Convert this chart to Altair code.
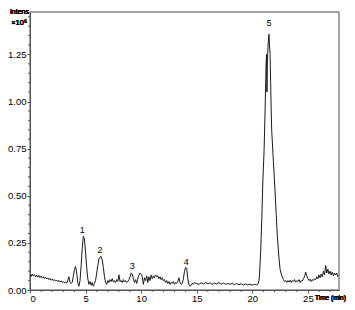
import altair as alt
import pandas as pd

# Chromatogram trace (time in min, intensity in 10^6)
times = [
    0.0, 0.1, 0.2, 0.3, 0.4, 0.5, 0.6, 0.7, 0.8, 0.9,
    1.0, 1.1, 1.2, 1.3, 1.4, 1.5, 1.6, 1.7, 1.8, 1.9,
    2.0, 2.1, 2.2, 2.3, 2.4, 2.5, 2.6, 2.7, 2.8, 2.9,
    3.0, 3.1, 3.2, 3.3, 3.4, 3.5, 3.6, 3.7, 3.8, 3.9,
    4.0, 4.1, 4.2, 4.3, 4.4, 4.5, 4.6, 4.7, 4.8, 4.9,
    5.0, 5.1, 5.2, 5.3, 5.4, 5.5, 5.6, 5.7, 5.8, 5.9,
    6.0, 6.1, 6.2, 6.3, 6.4, 6.5, 6.6, 6.7, 6.8, 6.9,
    7.0, 7.1, 7.2, 7.3, 7.4, 7.5, 7.6, 7.7, 7.8, 7.9,
    8.0, 8.1, 8.2, 8.3, 8.4, 8.5, 8.6, 8.7, 8.8, 8.9,
    9.0, 9.1, 9.2, 9.3, 9.4, 9.5, 9.6, 9.7, 9.8, 9.9,
    10.0, 10.1, 10.2, 10.3, 10.4, 10.5, 10.6, 10.7, 10.8, 10.9,
    11.0, 11.1, 11.2, 11.3, 11.4, 11.5, 11.6, 11.7, 11.8, 11.9,
    12.0, 12.1, 12.2, 12.3, 12.4, 12.5, 12.6, 12.7, 12.8, 12.9,
    13.0, 13.1, 13.2, 13.3, 13.4, 13.5, 13.6, 13.7, 13.8, 13.9,
    14.0, 14.1, 14.2, 14.3, 14.4, 14.5, 14.6, 14.7, 14.8, 14.9,
    15.0, 15.2, 15.4, 15.6, 15.8, 16.0, 16.2, 16.4, 16.6, 16.8,
    17.0, 17.2, 17.4, 17.6, 17.8, 18.0, 18.2, 18.4, 18.6, 18.8,
    19.0, 19.2, 19.4, 19.6, 19.8, 20.0, 20.2, 20.4, 20.5, 20.6,
    20.65, 20.75, 20.86, 20.95, 21.06, 21.15, 21.24, 21.28, 21.32, 21.36,
    21.42, 21.5, 21.55, 21.6, 21.65, 21.7, 21.75, 21.9, 22.05, 22.15,
    22.25, 22.4, 22.5, 22.65, 22.8, 22.9, 23.0, 23.1, 23.2, 23.3,
    23.4, 23.5, 23.6, 23.7, 23.8, 23.9, 24.0, 24.1, 24.2, 24.3,
    24.4, 24.5, 24.6, 24.7, 24.8, 24.9, 25.0, 25.1, 25.2, 25.3,
    25.4, 25.5, 25.6, 25.7, 25.8, 25.9, 26.0, 26.1, 26.2, 26.3,
    26.4, 26.5, 26.6, 26.7, 26.8, 26.9, 27.0, 27.1, 27.2, 27.3,
    27.4, 27.5, 27.6, 27.7,
]
intens = [
    0.080, 0.072, 0.085, 0.074, 0.082, 0.070, 0.079, 0.068, 0.077, 0.066,
    0.074, 0.063, 0.070, 0.060, 0.068, 0.058, 0.064, 0.055, 0.062, 0.052,
    0.058, 0.050, 0.055, 0.047, 0.053, 0.045, 0.050, 0.043, 0.048, 0.040,
    0.045, 0.038, 0.043, 0.036, 0.050, 0.070, 0.040, 0.035, 0.040, 0.075,
    0.110, 0.125, 0.090, 0.040, 0.020, 0.050, 0.130, 0.220, 0.285, 0.270,
    0.200, 0.120, 0.060, 0.030, 0.045, 0.025, 0.040, 0.020, 0.035, 0.050,
    0.090, 0.130, 0.165, 0.175, 0.178, 0.160, 0.120, 0.070, 0.040, 0.030,
    0.050, 0.040, 0.055, 0.045, 0.060, 0.042, 0.050, 0.040, 0.055, 0.045,
    0.080, 0.045, 0.050, 0.040, 0.055, 0.042, 0.050, 0.040, 0.045, 0.055,
    0.070, 0.090, 0.085, 0.060, 0.040, 0.055, 0.035, 0.060, 0.080, 0.090,
    0.085, 0.070, 0.030, 0.065, 0.050, 0.075, 0.040, 0.070, 0.050, 0.080,
    0.060, 0.075, 0.065, 0.080, 0.070, 0.075, 0.060, 0.070, 0.055, 0.065,
    0.050, 0.055, 0.040, 0.050, 0.035, 0.045, 0.030, 0.040, 0.035, 0.045,
    0.030, 0.040, 0.035, 0.045, 0.065, 0.040, 0.030, 0.035, 0.060, 0.100,
    0.120, 0.115, 0.060, 0.030, 0.020, 0.025, 0.035, 0.030, 0.040, 0.035,
    0.035, 0.030, 0.038, 0.032, 0.040, 0.033, 0.038, 0.030, 0.036, 0.032,
    0.040, 0.031, 0.037, 0.030, 0.035, 0.030, 0.036, 0.029, 0.034, 0.028,
    0.033, 0.027, 0.032, 0.027, 0.031, 0.026, 0.030, 0.027, 0.030, 0.050,
    0.080, 0.200, 0.390, 0.580, 0.740, 0.950, 1.200, 1.250, 1.050, 1.220,
    1.300, 1.357, 1.300, 1.250, 1.100, 0.950, 0.840, 0.680, 0.520, 0.400,
    0.290, 0.170, 0.110, 0.075, 0.055, 0.045, 0.050, 0.040, 0.050, 0.042,
    0.052, 0.040, 0.050, 0.045, 0.055, 0.042, 0.050, 0.045, 0.055, 0.040,
    0.050, 0.048, 0.060, 0.070, 0.095, 0.075, 0.060, 0.050, 0.058, 0.045,
    0.055, 0.050, 0.060, 0.055, 0.070, 0.060, 0.080, 0.065, 0.085, 0.070,
    0.100, 0.080, 0.130, 0.090, 0.110, 0.085, 0.100, 0.080, 0.095, 0.075,
    0.090, 0.080, 0.090, 0.070,
]

# Peak annotations
peak_labels = ["1", "2", "3", "4", "5"]
peak_t = [4.7, 6.3, 9.2, 14.05, 21.5]
peak_y = [0.316, 0.212, 0.129, 0.150, 1.417]

# Axis ticks
x_major = [0, 5, 10, 15, 20, 25]
x_minor = [float(i) for i in range(0, 28) if i % 5 != 0]
y_major = [0.0, 0.25, 0.5, 0.75, 1.0, 1.25]
y_minor = [round(i * 0.05, 2) for i in range(0, 30) if i % 5 != 0]

trace = pd.DataFrame({"t": times, "v": intens})
peaks = pd.DataFrame({"t": peak_t, "v": peak_y, "lab": peak_labels})
xmin_df = pd.DataFrame({"t": x_minor})
ymin_df = pd.DataFrame({"v": y_minor})

FONT = "Liberation Sans"
W, H = 309, 278
xs = alt.Scale(domain=[0, 27.8], nice=False, zero=False)
ys = alt.Scale(domain=[0, 1.475], nice=False)

x_axis = alt.Axis(values=x_major, title=None, format="d", orient="bottom",
                  tickSize=3, labelPadding=0, grid=False,
                  domainColor="#555", tickColor="#555",
                  labelFont=FONT, labelFontSize=9.5, labelColor="#000")
y_axis = alt.Axis(values=y_major, title=None, format=".2f", orient="left",
                  tickSize=3, labelPadding=1, grid=False,
                  domainColor="#555", tickColor="#555",
                  labelFont=FONT, labelFontSize=9.5, labelColor="#000")

line = alt.Chart(trace).mark_line(color="#1a1a1a", strokeWidth=1).encode(
    x=alt.X("t:Q", scale=xs, axis=x_axis),
    y=alt.Y("v:Q", scale=ys, axis=y_axis),
)

xminor = alt.Chart(xmin_df).mark_rule(color="#555", strokeWidth=1).encode(
    x=alt.X("t:Q", scale=xs, axis=x_axis),
    y=alt.value(H), y2=alt.value(H + 2),
)
yminor = alt.Chart(ymin_df).mark_rule(color="#555", strokeWidth=1).encode(
    y=alt.Y("v:Q", scale=ys, axis=y_axis),
    x=alt.value(-2), x2=alt.value(0),
)

labels = alt.Chart(peaks).mark_text(font=FONT, fontSize=9, color="#000",
                                    baseline="middle", align="center").encode(
    x=alt.X("t:Q", scale=xs, axis=x_axis),
    y=alt.Y("v:Q", scale=ys, axis=y_axis),
    text="lab:N",
)

intens_txt = alt.Chart(peaks).mark_text(font=FONT, fontSize=7, color="#000",
                                        align="right", baseline="middle").encode(
    x=alt.value(-1), y=alt.value(0), text=alt.value("Intens"))
scale_txt = alt.Chart(peaks).mark_text(font=FONT, fontSize=7.5, color="#000",
                                       align="right", baseline="middle").encode(
    x=alt.value(-3), y=alt.value(11), text=alt.value("×10⁶"))
time_txt = alt.Chart(peaks).mark_text(font=FONT, fontSize=6.5, color="#000",
                                      align="left", baseline="middle").encode(
    x=alt.value(285), y=alt.value(H + 8), text=alt.value("Time (min)"))

chart = alt.layer(line, xminor, yminor, labels, intens_txt, scale_txt, time_txt).properties(
    width=W, height=H,
    autosize=alt.AutoSizeParams(type="none"),
    padding={"left": 22, "top": 4, "right": 8, "bottom": 12},
).configure_view(stroke="#888", strokeWidth=1.5)

chart.save("out.html", embed_options={"renderer": "svg", "actions": False})
